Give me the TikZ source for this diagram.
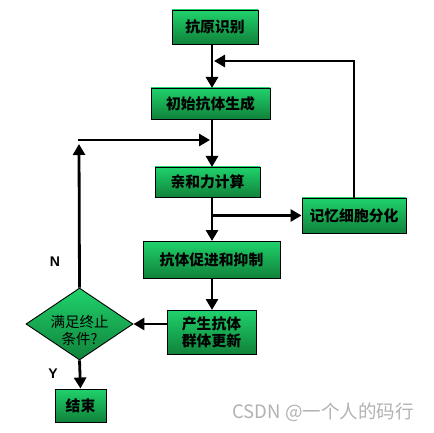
\documentclass[tikz,border=0pt]{standalone}
\usepackage{fontspec}
\setmainfont{Liberation Sans}
\newfontfamily\cjk{Noto Sans CJK SC}
\usetikzlibrary{arrows.meta,shapes.geometric}
\definecolor{gtop}{RGB}{32,210,108}
\definecolor{gbot}{RGB}{16,130,58}
\begin{document}
\begin{tikzpicture}[x=1pt,y=-1pt,
  box/.style={draw=black,line width=0.9pt,top color=gtop,bottom color=gbot,
    inner sep=0pt,font=\cjk\bfseries\fontsize{14.8}{17}\selectfont,align=center},
  arr/.style={line width=2.8pt,-{Triangle[length=11pt,width=12pt]}},
  lab/.style={font=\bfseries\fontsize{14}{16}\selectfont}]
\useasboundingbox (0,0) rectangle (434,433);
\fill[white] (0,0) rectangle (434,433);
\node[box,minimum width=86pt,minimum height=34pt] (b1) at (215,27) {抗原识别};
\node[box,minimum width=119pt,minimum height=31pt] (b2) at (210.5,103.5) {初始抗体生成};
\node[box,minimum width=105pt,minimum height=30pt] (b3) at (207.5,182) {亲和力计算};
\node[box,minimum width=104pt,minimum height=35pt] (mem) at (354,215.5) {记忆细胞分化};
\node[box,minimum width=137pt,minimum height=37pt] (b4) at (211.5,259.5) {抗体促进和抑制};
\node[box,minimum width=89pt,minimum height=44pt] (b5) at (211.5,332) {产生抗体\\群体更新};
\node[diamond,draw=black,line width=0.9pt,top color=gtop,bottom color=gbot,
  minimum width=107pt,minimum height=72pt,inner sep=0pt] (dia) at (79.5,324) {};
\node[font=\cjk\fontsize{14.5}{17}\selectfont,align=center] (diat) at (79.5,330) {满足终止\\条件?};
\node[box,minimum width=51pt,minimum height=33pt] (end) at (80.5,405.5) {结束};
\node[lab] (N) at (55,262) {N};
\node[lab] (Y) at (53,374) {Y};
\node[font=\cjk\fontsize{18.5}{20}\selectfont,text=black!30] (wm) at (323,412) {CSDN @一个人的码行};
% coordinates
\coordinate (t1) at (212,44);
\coordinate (t2) at (212,88);
\coordinate (t3) at (212,119);
\coordinate (t4) at (212,167);
\coordinate (t5) at (212,197);
\coordinate (t6) at (212,241);
\coordinate (t7) at (212,278);
\coordinate (t8) at (212,310);
\coordinate (fb) at (214,61);
\coordinate (br) at (212,215.5);
\coordinate (lpt) at (79,144);
\coordinate (lps) at (77.6,140);
\coordinate (lpe) at (210,140);
\draw[arr] (t1) -- (t2);
\draw[arr] (t3) -- (t4);
\draw[arr] (t5) -- (t6);
\draw[arr] (t7) -- (t8);
\draw[arr] (mem.north) |- (fb);
\draw[arr] (br) -- (mem.west);
\draw[arr] (b5.west |- dia.east) -- (dia.east);
\draw[arr] (dia.south) -- (end.north);
\draw[arr] (dia.north) -- (lpt);
\draw[arr] (lps) -- (lpe);
\end{tikzpicture}
\end{document}
